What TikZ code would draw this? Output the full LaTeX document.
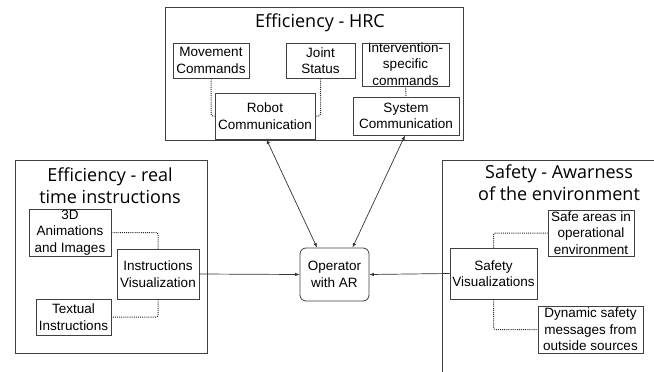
\documentclass[tikz,border=0pt]{standalone}
\usepackage{fontspec}
\setmainfont{Liberation Sans}
\newfontfamily\titlefont{Open Sans}
\usetikzlibrary{arrows.meta}

\tikzset{
  lin/.style={draw=black!75, line width=0.8pt},
  group/.style={lin, rectangle, inner sep=0pt},
  item/.style={lin, rectangle, inner sep=0pt, align=center,
    font=\fontsize{13.5}{16.5}\selectfont},
  txt/.style={inner sep=0pt, align=center, font=\fontsize{13.5}{16.5}\selectfont},
  heading/.style={inner sep=0pt, align=center, font=\titlefont\fontsize{18}{21.7}\selectfont},
  link/.style={draw=black!85, line width=1pt, dash pattern=on 1pt off 1.1pt, rounded corners=2pt},
  flow/.style={draw=black!80, line width=0.7pt, -{Latex[length=4.5pt,width=3.5pt]}},
  flow2/.style={draw=black!80, line width=0.7pt, {Latex[length=4.5pt,width=3.5pt]}-{Latex[length=4.5pt,width=3.5pt]}},
}

\begin{document}
\begin{tikzpicture}[x=1pt, y=-1pt]
  \useasboundingbox (0,0) rectangle (654,372);

  % ---- Efficiency - HRC group ----
  \node[group, minimum width=298pt, minimum height=133pt] (hrc) at (314,73.5) {};
  \node[heading] (hrctitle) at (320,23) {Efficiency - HRC};
  \node[item, minimum width=76pt, minimum height=35pt] (mov) at (211,60.5) {Movement\\Commands};
  \node[item, minimum width=69pt, minimum height=35pt] (joint) at (320.5,60.5) {Joint\\Status};
  \node[txt] (intervtxt) at (405.5,64) {Intervention-\\specific\\commands};
  \node[group, minimum width=87pt, minimum height=43pt] (interv) at (405.5,64.5) {};
  \node[item, fill=white, minimum width=100pt, minimum height=46pt] (robot) at (265,116) {Robot\\Communication};
  \node[item, fill=white, minimum width=106pt, minimum height=38pt] (sys) at (406,116) {System\\Communication};

  \draw[link] (mov.south) |- (robot.west);
  \draw[link] (joint.south) |- (robot.east);
  \draw[link] (interv.south) -- (sys.north);

  % ---- Efficiency - real time instructions group ----
  \node[group, minimum width=192pt, minimum height=193pt] (rti) at (111,256.5) {};
  \node[heading] (rtititle) at (110,186) {Efficiency - real\\time instructions};
  \node[item, minimum width=82pt, minimum height=47pt] (anim) at (70,232.5) {3D\\Animations\\and Images};
  \node[item, minimum width=82pt, minimum height=50pt] (instr) at (158,274) {Instructions\\Visualization};
  \node[item, minimum width=75pt, minimum height=36pt] (textual) at (73.5,317) {Textual\\Instructions};

  \draw[link] (anim.east) -| (instr.north);
  \draw[link] (instr.south) |- (textual.east);

  % ---- Safety group (runs past the right and lower edges) ----
  \coordinate (sg1) at (654,160);
  \coordinate (sg2) at (442,160);
  \coordinate (sg3) at (442,372);
  \draw[lin] (sg1) -- (sg2) -- (sg3);
  \node[heading] (safetitle) at (559,182.5) {Safety - Awarness\\of the environment};
  \node[item, minimum width=86pt, minimum height=46pt] (safe) at (591,233) {Safe areas in\\operational\\environment};
  \node[item, minimum width=87pt, minimum height=51pt] (safety) at (493.5,273.5) {Safety\\Visualizations};
  \node[item, minimum width=105pt, minimum height=47pt] (dyn) at (590.5,329.5) {Dynamic safety\\messages from\\outside sources};

  \draw[link] (safety.north) |- (safe.west);
  \draw[link] (safety.south) |- (dyn.west);

  % ---- Operator ----
  \node[item, rounded corners=6pt, minimum width=69pt, minimum height=53pt] (op) at (334.5,274.5) {Operator\\with AR};

  \draw[flow2] ([xshift=1.5pt]robot.south) -- ([xshift=-17.5pt]op.north);
  \draw[flow2] ([xshift=-1pt]sys.south) -- ([xshift=18pt]op.north);
  \draw[flow] (instr.east) -- (op.west);
  \draw[flow] (safety.west) -- (op.east);
\end{tikzpicture}
\end{document}
